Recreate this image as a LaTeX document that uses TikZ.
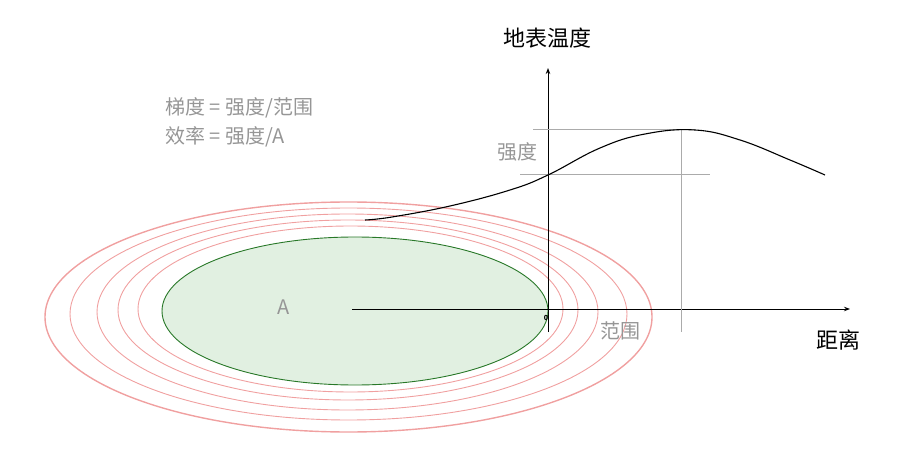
\documentclass[tikz,border=0pt]{standalone}
\usepackage{fontspec}
\setmainfont{Noto Sans CJK SC}
\usetikzlibrary{arrows.meta}
\definecolor{ringred}{RGB}{240,160,160}
\definecolor{areagreen}{RGB}{225,240,225}
\definecolor{edgegreen}{RGB}{40,120,40}
\definecolor{textgray}{RGB}{150,150,150}
\tikzset{
  ring/.style={draw=ringred, line width=0.9pt},
  guide/.style={draw=textgray!80, line width=1pt},
  axis/.style={draw=black, line width=1pt, -{Stealth[length=6pt]}},
  graylabel/.style={text=textgray, font=\fontsize{20}{23}\selectfont},
  axislabel/.style={font=\fontsize{22}{25}\selectfont}
}
\begin{document}
\begin{tikzpicture}[x=1pt,y=-1pt]
\useasboundingbox (0,0) rectangle (899,454);
% rings round the area
\foreach \l/\r/\t/\b in {138/563/226/392, 118/578/220/400, 97/598/214/410, 70/627/208/420}
  \draw[ring] ({(\l+\r)/2},{(\t+\b)/2}) ellipse [x radius={(\r-\l)/2}, y radius={(\b-\t)/2}];
\draw[ring, line width=1.4pt] (348.5,317) ellipse [x radius=303.5, y radius=115];
% area
\draw[fill=areagreen, draw=edgegreen, line width=0.9pt] (355,311) ellipse [x radius=193, y radius=74];
\node[graylabel] (a) at (284,307) {A};
% axes
\coordinate (o) at (548,309);
\draw[axis] (352,309) -- (850,309);
\draw[axis] (548,332) -- (548,68);
\node[font=\scriptsize\bfseries] (zero) at (546,318) {0};
\node[axislabel] (ylab) at (547,38) {地表温度};
\node[axislabel] (xlab) at (838,340) {距离};
% guides
\draw[guide] (533,130) -- (695,130);
\draw[guide] (520,175) -- (710,175);
\draw[guide] (681,130) -- (681,332);
% temperature curve
\draw[line width=1.1pt] plot[smooth, tension=0.7] coordinates {(365,220) (392,217) (450,206) (510,190) (548,175) (600,148) (645,134) (695,130) (740,140) (790,160) (825,175)};
% labels
\node[graylabel] (strength) at (517,152) {强度};
\node[graylabel] (range) at (620,331) {范围};
\node[graylabel, anchor=west] (f1) at (162,108) {梯度 = 强度/范围};
\node[graylabel, anchor=west] (f2) at (162,137) {效率 = 强度/A};
\end{tikzpicture}
\end{document}
